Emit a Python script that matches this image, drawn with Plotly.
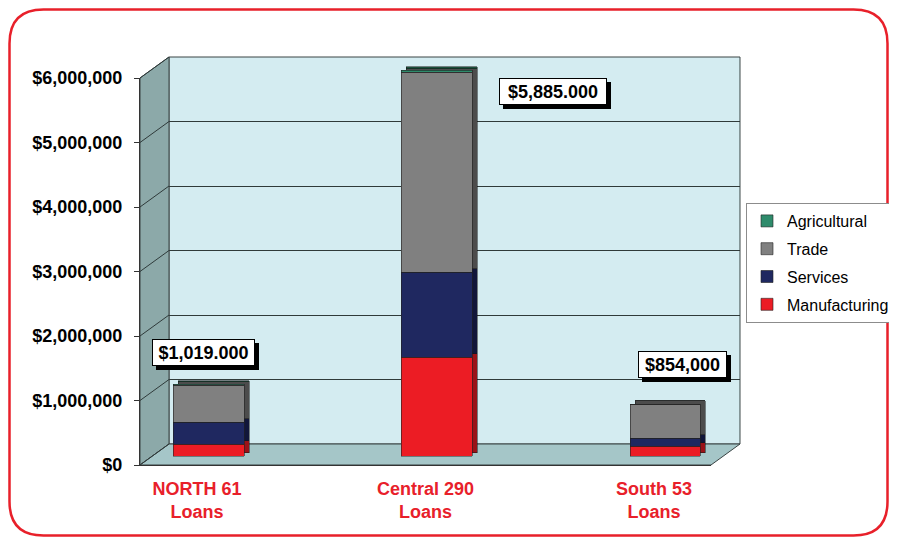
import plotly.graph_objects as go

# ---------------------------------------------------------------------------
# Data
# ---------------------------------------------------------------------------
regions = ["NORTH", "Central", "South"]
region_labels = ["NORTH 61<br>Loans", "Central 290<br>Loans", "South 53<br>Loans"]

manufacturing = [190000, 1540000, 150000]
services = [335000, 1320000, 130000]
trade = [570000, 3100000, 533000]
agricultural = [25000, 30000, 0]

total_labels = ["$1,019.000", "$5,885.000", "$854,000"]
y_ticks = [0, 1000000, 2000000, 3000000, 4000000, 5000000, 6000000]

# ---------------------------------------------------------------------------
# Styling / geometry (page pixels; the figure sits 8px in from the page corner)
# ---------------------------------------------------------------------------
OFF = 8
FW, FH = 881, 529
FONT = "Liberation Sans, Arial, sans-serif"
RED = "#E8202A"

SERIES = [
    ("Manufacturing", manufacturing, "#EC1C24", "#9A1218", 4),
    ("Services", services, "#1F2860", "#11163A", 3),
    ("Trade", trade, "#808080", "#4C4C4C", 2),
    ("Agricultural", agricultural, "#2E8B6B", "#1B4F3A", 1),
]

FX0, FX1, FY0, FY1 = 140, 711, 465, 78        # front axes box
DX, DY = 29, -21                              # wall depth
BDX, BDY = 11.5, -8.3                         # bar front-face depth
SDX, SDY = 5, -3.6                            # bar thickness
YMAX = 6000000
X_RANGE = [-0.25, 2.25]
BAR_W = 0.31

label_offsets = [(-5, 32), (116, -21), (17, 40)]
label_widths = [99, 104, 85]
LABEL_H = 23


def px(x):
    return (x - OFF) / FW


def py(y):
    return 1 - (y - OFF) / FH


def dom_x(off):
    return [px(FX0 + off), px(FX1 + off)]


def dom_y(off):
    return [py(FY0 + off), py(FY1 + off)]


def y_front(v):
    return FY0 - v / YMAX * (FY0 - FY1)


fig = go.Figure()

# back-face (side/top shading) bars
for name, vals, col, dark, rank in SERIES:
    fig.add_trace(go.Bar(
        x=regions, y=vals, name=name, width=BAR_W,
        marker=dict(color=dark, line=dict(color="#111", width=0.5)),
        xaxis="x2", yaxis="y2", showlegend=False, hoverinfo="skip",
    ))

# front bars
for name, vals, col, dark, rank in SERIES:
    fig.add_trace(go.Bar(
        x=regions, y=vals, name=name, width=BAR_W,
        marker=dict(color=col, line=dict(color="#222", width=0.6)),
        xaxis="x3", yaxis="y3", legendgroup=name, legendrank=rank,
    ))

# placeholders so every axis pair is drawn
fig.add_trace(go.Scatter(x=regions, y=[0, 0, 0], mode="none", xaxis="x", yaxis="y",
                         showlegend=False, hoverinfo="skip"))
fig.add_trace(go.Scatter(x=regions, y=[0, 0, 0], mode="none", xaxis="x4", yaxis="y4",
                         showlegend=False, hoverinfo="skip"))

hidden = dict(showgrid=False, zeroline=False, showticklabels=False, ticks="",
              showline=False, fixedrange=True)

fig.update_layout(
    width=FW, height=FH,
    margin=dict(l=0, r=0, t=0, b=0, autoexpand=False),
    paper_bgcolor="white",
    plot_bgcolor="rgba(0,0,0,0)",
    barmode="stack",
    bargap=0,
    font=dict(family=FONT, color="black"),
    # back wall grid
    xaxis=dict(domain=dom_x(DX), range=X_RANGE, type="category", anchor="y", **hidden),
    yaxis=dict(domain=dom_y(DY), range=[0, YMAX], anchor="x", showgrid=True,
               gridcolor="#2F3A3A", gridwidth=1, tickvals=y_ticks, zeroline=False,
               showticklabels=False, ticks="", showline=False, fixedrange=True),
    # bar shading
    xaxis2=dict(domain=dom_x(BDX + SDX), range=X_RANGE, type="category", anchor="y2", **hidden),
    yaxis2=dict(domain=dom_y(BDY + SDY), range=[0, YMAX], anchor="x2", **hidden),
    # bars
    xaxis3=dict(domain=dom_x(BDX), range=X_RANGE, type="category", anchor="y3", **hidden),
    yaxis3=dict(domain=dom_y(BDY), range=[0, YMAX], anchor="x3", **hidden),
    # front axes with labels
    xaxis4=dict(domain=dom_x(0), range=X_RANGE, type="category", anchor="y4",
                tickvals=regions, ticktext=region_labels, showgrid=False, zeroline=False,
                showline=True, linecolor="#333", linewidth=1, ticks="",
                tickfont=dict(size=18, color=RED, family=FONT, weight="bold"),
                ticklabelstandoff=7, fixedrange=True),
    yaxis4=dict(domain=dom_y(0), range=[0, YMAX], anchor="x4",
                tickvals=y_ticks, ticktext=[f"${v:,.0f}" for v in y_ticks],
                showgrid=False, zeroline=False, showline=True, linecolor="#333",
                linewidth=1, ticks="outside", ticklen=5, tickcolor="#333",
                tickfont=dict(size=18, color="black", family=FONT, weight="bold"),
                ticklabelstandoff=8, fixedrange=True),
    legend=dict(
        x=px(746), y=py(203), xanchor="left", yanchor="top",
        bgcolor="white", bordercolor="#8C8C8C", borderwidth=1,
        font=dict(size=16, family=FONT, color="black"),
        traceorder="grouped", tracegroupgap=4,
    ),
)

# ---------------------------------------------------------------------------
# 3-D walls (decoration)
# ---------------------------------------------------------------------------
def poly(points):
    return "M" + " L".join(f"{px(x):.5f},{py(y):.5f}" for x, y in points) + " Z"


shapes = []
# back wall
shapes.append(dict(type="path", xref="paper", yref="paper", layer="below",
                   path=poly([(FX0 + DX, FY0 + DY), (FX0 + DX, FY1 + DY),
                              (FX1 + DX, FY1 + DY), (FX1 + DX, FY0 + DY)]),
                   fillcolor="#D4ECF1", line=dict(color="#3A4444", width=1)))
# side wall
shapes.append(dict(type="path", xref="paper", yref="paper", layer="below",
                   path=poly([(FX0, FY0), (FX0, FY1), (FX0 + DX, FY1 + DY), (FX0 + DX, FY0 + DY)]),
                   fillcolor="#8CA9A9", line=dict(color="#3A4444", width=1)))
# floor
shapes.append(dict(type="path", xref="paper", yref="paper", layer="below",
                   path=poly([(FX0, FY0), (FX0 + DX, FY0 + DY), (FX1 + DX, FY0 + DY), (FX1, FY0)]),
                   fillcolor="#A5C6C8", line=dict(color="#3A4444", width=1)))
# side wall grid lines
for v in y_ticks:
    yf = y_front(v)
    shapes.append(dict(type="line", xref="paper", yref="paper", layer="below",
                       x0=px(FX0), y0=py(yf), x1=px(FX0 + DX), y1=py(yf + DY),
                       line=dict(color="#2F3A3A", width=1)))

# red rounded frame
L, T, R, B, r = 9.5, 9.5, 887.5, 535.5, 34


def P(x, y):
    return f"{px(x):.5f},{py(y):.5f}"


frame = (f"M{P(L + r, T)} L{P(R - r, T)} Q{P(R, T)} {P(R, T + r)} "
         f"L{P(R, B - r)} Q{P(R, B)} {P(R - r, B)} L{P(L + r, B)} "
         f"Q{P(L, B)} {P(L, B - r)} L{P(L, T + r)} Q{P(L, T)} {P(L + r, T)} Z")
shapes.append(dict(type="path", xref="paper", yref="paper", layer="above",
                   path=frame, line=dict(color=RED, width=2.5)))
fig.update_layout(shapes=shapes)

# ---------------------------------------------------------------------------
# Total labels with drop shadow
# ---------------------------------------------------------------------------
totals = [m + s + t + a for m, s, t, a in zip(manufacturing, services, trade, agricultural)]
for reg, tot, txt, (dx, dy), w in zip(regions, totals, total_labels, label_offsets, label_widths):
    common = dict(x=reg, y=tot, xref="x3", yref="y3", showarrow=False,
                  width=w, height=LABEL_H, borderpad=1, borderwidth=1,
                  font=dict(size=18, family=FONT, weight="bold", color="black"))
    # shadow box
    fig.add_annotation(**common, text=" ", xshift=dx + 4, yshift=dy - 4,
                       bgcolor="black", bordercolor="black")
    fig.add_annotation(**common, text=txt, xshift=dx, yshift=dy,
                       bgcolor="white", bordercolor="black")

fig.write_html("out.html")
